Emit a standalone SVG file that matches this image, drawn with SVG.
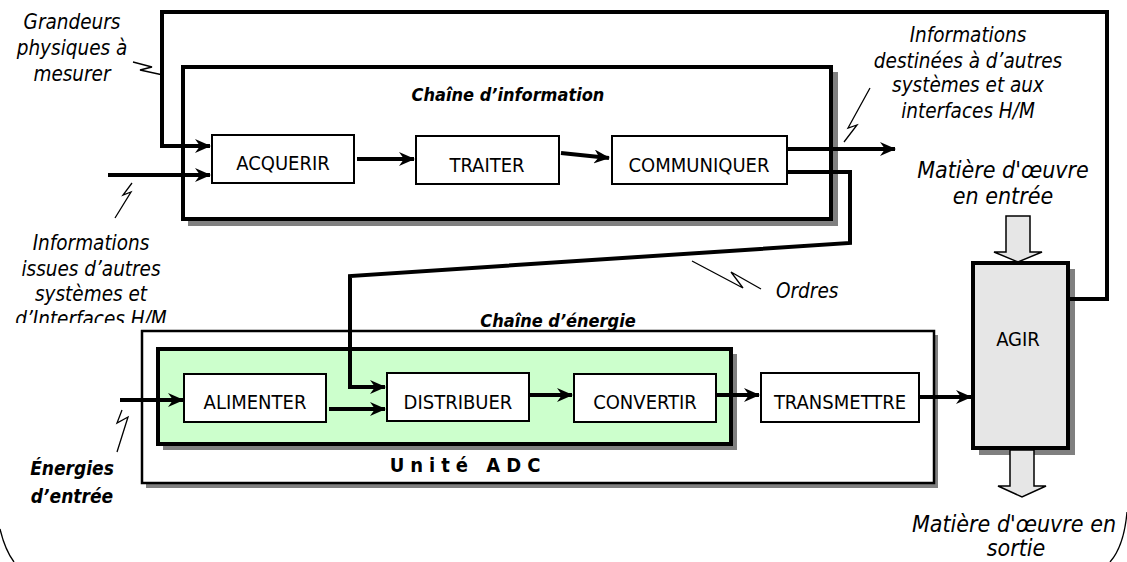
<svg xmlns="http://www.w3.org/2000/svg" width="1127" height="562" viewBox="0 0 1127 562">
<style>
text{font-family:"DejaVu Sans Condensed","DejaVu Sans",sans-serif;font-stretch:condensed;fill:#000}
.lbl{font-size:20px;text-anchor:middle}
.it{font-size:20.5px;font-style:italic;text-anchor:middle}
.big{font-size:23px;font-style:italic;text-anchor:middle}
.bi{font-size:18px;font-style:italic;font-weight:bold;text-anchor:middle}
.box{fill:#fff;stroke:#000;stroke-width:2}
.shadow{fill:#808080;stroke:none}
.wire{fill:none;stroke:#000;stroke-width:4;stroke-linejoin:miter}
.bolt{fill:none;stroke:#000;stroke-width:1.3}
.hollow{fill:#e6e6e6;stroke:#000;stroke-width:1.5}
</style>
<defs>
<marker id="ah" viewBox="0 0 16 14" refX="15" refY="7" markerWidth="16" markerHeight="14" markerUnits="userSpaceOnUse" orient="auto">
<path d="M0,0 L16,7 L0,14 L5,7 Z" fill="#000"/>
</marker>
<clipPath id="clipInfo"><rect x="0" y="220" width="300" height="103"/></clipPath>
</defs>

<!-- outer frame corners -->
<path class="bolt" d="M0,529 Q5,550 14,562"/>
<path class="bolt" d="M1127,512 Q1124,546 1110,562"/>

<g id="chaine-information">
<rect class="shadow" x="188" y="72" width="650" height="154"/>
<rect x="183" y="67" width="648" height="152" fill="#fff" stroke="#000" stroke-width="4"/>
<text class="bi" x="508" y="101">Chaîne d’information</text>
</g>

<g id="chaine-energie">
<rect class="shadow" x="146" y="335" width="792" height="153"/>
<rect x="142" y="331" width="792" height="152" fill="#fff" stroke="#000" stroke-width="2.5"/>
<text class="bi" x="558" y="327">Chaîne d’énergie</text>
</g>

<g id="unite-adc">
<rect class="shadow" x="163" y="354" width="574" height="96"/>
<rect x="158" y="349" width="573" height="95" fill="#ccffcc" stroke="#000" stroke-width="4"/>
<text x="468" y="472" style="font-size:20px;font-weight:bold;text-anchor:middle;letter-spacing:6px">Unité ADC</text>
</g>

<g id="acquerir"><rect class="box" x="212" y="135" width="142" height="48"/><text class="lbl" x="283" y="170">ACQUERIR</text></g>
<g id="traiter"><rect class="box" x="416" y="136" width="143" height="48"/><text class="lbl" x="487" y="172">TRAITER</text></g>
<g id="communiquer"><rect class="box" x="612" y="136" width="175" height="48"/><text class="lbl" x="699" y="172">COMMUNIQUER</text></g>
<g id="alimenter"><rect class="box" x="184" y="374" width="142" height="48"/><text class="lbl" x="255" y="409">ALIMENTER</text></g>
<g id="distribuer"><rect class="box" x="387" y="373" width="142" height="48"/><text class="lbl" x="458" y="409">DISTRIBUER</text></g>
<g id="convertir"><rect class="box" x="574" y="374" width="142" height="48"/><text class="lbl" x="645" y="409">CONVERTIR</text></g>
<g id="transmettre"><rect class="box" x="761" y="373" width="158" height="49"/><text class="lbl" x="840" y="409">TRANSMETTRE</text></g>
<g id="agir">
<rect class="shadow" x="979" y="269" width="96" height="186"/>
<rect x="973" y="263" width="95" height="185" fill="#e6e6e6" stroke="#000" stroke-width="4"/>
<text class="lbl" x="1018" y="346">AGIR</text>
</g>

<g id="connecteurs">
<path class="wire" d="M1068,299 H1107 V12 H162 V146 H210" marker-end="url(#ah)"/>
<path class="wire" d="M108,175 H210" marker-end="url(#ah)"/>
<path class="wire" d="M357,159 H414" marker-end="url(#ah)"/>
<path class="wire" d="M561,153 L609,158" marker-end="url(#ah)"/>
<path class="wire" d="M787,149 H895" marker-end="url(#ah)"/>
<path class="wire" d="M787,172 H850 V243 L350,276 V387 H385" marker-end="url(#ah)"/>
<path class="wire" d="M120,400 H183" marker-end="url(#ah)"/>
<path class="wire" d="M329,409 H385" marker-end="url(#ah)"/>
<path class="wire" d="M529,395 H572" marker-end="url(#ah)"/>
<path class="wire" d="M716,395 H759" marker-end="url(#ah)"/>
<path class="wire" d="M919,397 H971" marker-end="url(#ah)"/>
<path class="hollow" d="M1006,216 H1030 V252 H1042 L1018,262 L994,252 H1006 Z"/>
<path class="hollow" d="M1010,450 H1034 V486 H1046 L1022,497 L998,486 H1010 Z"/>
<path class="bolt" d="M133,62 L152,67 L140,70 L163,75"/>
<path class="bolt" d="M132,183 L123,195 L131,192 L115,218"/>
<path class="bolt" d="M870,88 L848,128 L857,125 L844,142"/>
<path class="bolt" d="M692,261 L743,288 L731,272 L761,289"/>
<path class="bolt" d="M122,410 L117,423 L128,417 L117,452"/>
</g>

<g id="labels">
<text class="it" x="72" y="29">Grandeurs</text>
<text class="it" x="72" y="55">physiques à</text>
<text class="it" x="72" y="81">mesurer</text>
<text class="it" x="968" y="42">Informations</text>
<text class="it" x="968" y="68">destinées à d’autres</text>
<text class="it" x="968" y="92">systèmes et aux</text>
<text class="it" x="968" y="118">interfaces H/M</text>
<text class="big" x="1003" y="178">Matière d'œuvre</text>
<text class="big" x="1003" y="204">en entrée</text>
<g clip-path="url(#clipInfo)">
<text class="it" x="91" y="250">Informations</text>
<text class="it" x="91" y="276">issues d’autres</text>
<text class="it" x="91" y="301">systèmes et</text>
<text class="it" x="91" y="326">d’Interfaces H/M</text>
</g>
<text class="it" x="776" y="298" style="text-anchor:start">Ordres</text>
<text class="bi" x="72" y="475" style="font-size:19px">Énergies</text>
<text class="bi" x="72" y="503" style="font-size:19px">d’entrée</text>
<text class="big" x="1014" y="532">Matière d'œuvre en</text>
<text class="big" x="1016" y="556">sortie</text>
</g>
</svg>
